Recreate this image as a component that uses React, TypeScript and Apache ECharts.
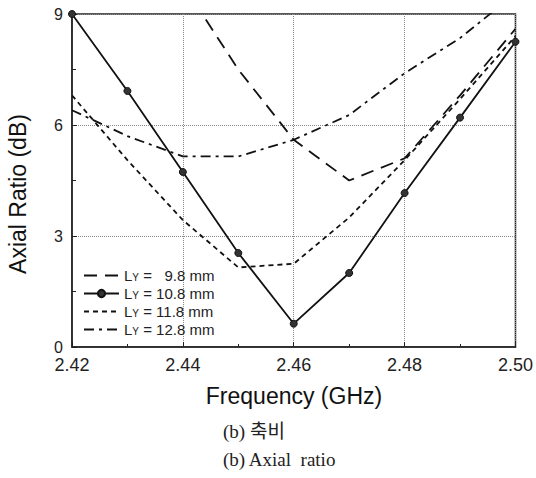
import React, { useEffect, useRef } from "react";
import * as echarts from "echarts";

const freq = [2.42, 2.43, 2.44, 2.45, 2.46, 2.47, 2.48, 2.49, 2.5];
const ar98 = [null, null, 9.8, 7.5, 5.6, 4.5, 5.1, 6.8, 8.6];
const ar108 = [9.0, 6.92, 4.73, 2.54, 0.63, 2.0, 4.16, 6.2, 8.25];
const ar118 = [6.8, 5.05, 3.43, 2.15, 2.25, 3.5, 5.05, 6.7, 8.4];
const ar128 = [6.4, 5.7, 5.15, 5.15, 5.6, 6.27, 7.4, 8.35, 9.55];
const seriesNames = ["9.8", "10.8", "11.8", "12.8"];
const legendValues = ["  9.8 mm", "10.8 mm", "11.8 mm", "12.8 mm"];
const xTicks = ["2.42", "2.44", "2.46", "2.48", "2.50"];

const pairs = (ys: (number | null)[]) =>
  freq.map((f, i) => [f, ys[i]]).filter((p) => p[1] !== null);

export default function App() {
  const ref = useRef<HTMLDivElement>(null);
  useEffect(() => {
    if (!ref.current) return;
    const chart = echarts.init(ref.current, undefined, { renderer: "svg" });
    const ink = "#111";
    const lineBase = { color: ink, width: 1.8 };
    const sans = '"Liberation Sans", Arial, sans-serif';
    chart.setOption({
      animation: false,
      backgroundColor: "#fff",
      grid: {
        left: 72,
        right: 19,
        top: 14,
        bottom: 131,
        show: true,
        borderColor: "#222",
        borderWidth: 1.5,
      },
      legend: {
        left: 83,
        top: 268,
        padding: 0,
        orient: "vertical",
        itemWidth: 35,
        itemHeight: 9,
        itemGap: 3,
        data: [
          { name: "9.8", itemStyle: { opacity: 0 } },
          { name: "10.8" },
          { name: "11.8", itemStyle: { opacity: 0 } },
          { name: "12.8", itemStyle: { opacity: 0 } },
        ],
        formatter: (name: string) => {
          const i = seriesNames.indexOf(name);
          return "{l|L}{s|Y}{l| = " + legendValues[i] + "}";
        },
        textStyle: {
          rich: {
            l: { fontFamily: sans, fontSize: 15, color: "#222" },
            s: { fontFamily: sans, fontSize: 10, color: "#222", padding: [3, 0, 0, 0] },
          },
        },
      },
      xAxis: {
        type: "value",
        min: 2.42,
        max: 2.5,
        interval: 0.02,
        axisLine: { show: true, lineStyle: { color: "#222", width: 1.5 } },
        axisTick: { show: true, inside: true, length: 5, lineStyle: { color: "#222" } },
        minorTick: { show: true, splitNumber: 2, length: 3, lineStyle: { color: "#222" } },
        splitLine: { show: true, lineStyle: { type: "dotted", color: "#888", width: 1 } },
        axisLabel: {
          margin: 9,
          fontFamily: sans,
          fontSize: 18,
          color: "#222",
          formatter: (v: number) => {
            const s = v.toFixed(2);
            return xTicks.includes(s) ? s : "";
          },
        },
      },
      yAxis: {
        type: "value",
        min: 0,
        max: 9,
        interval: 3,
        axisLine: { show: true, lineStyle: { color: "#222", width: 1.5 } },
        axisTick: { show: true, inside: true, length: 5, lineStyle: { color: "#222" } },
        minorTick: { show: true, splitNumber: 2, length: 4, lineStyle: { color: "#222" } },
        splitLine: { show: true, lineStyle: { type: "dotted", color: "#888", width: 1 } },
        axisLabel: { margin: 9, fontFamily: sans, fontSize: 16, color: "#222" },
      },
      series: [
        {
          name: "9.8",
          type: "line",
          data: pairs(ar98),
          symbol: "none",
          lineStyle: { ...lineBase, type: [13, 8] },
          itemStyle: { color: ink },
        },
        {
          name: "10.8",
          type: "line",
          data: pairs(ar108),
          symbol: "circle",
          symbolSize: 7,
          lineStyle: { ...lineBase },
          itemStyle: { color: "#333", borderColor: ink, borderWidth: 1 },
        },
        {
          name: "11.8",
          type: "line",
          data: pairs(ar118),
          symbol: "none",
          lineStyle: { ...lineBase, type: [5, 4] },
          itemStyle: { color: ink },
        },
        {
          name: "12.8",
          type: "line",
          data: pairs(ar128),
          symbol: "none",
          lineStyle: { ...lineBase, type: [10, 5, 3, 5] },
          itemStyle: { color: ink },
        },
      ],
      graphic: [
        {
          type: "text",
          x: 18,
          y: 194,
          rotation: Math.PI / 2,
          style: {
            text: "Axial Ratio (dB)",
            font: "23px " + sans,
            fill: "#111",
            align: "center",
            verticalAlign: "middle",
          },
        },
        {
          type: "text",
          x: 294,
          y: 396,
          style: {
            text: "Frequency (GHz)",
            font: "23px " + sans,
            fill: "#111",
            align: "center",
            verticalAlign: "middle",
          },
        },
        {
          type: "text",
          x: 223,
          y: 431,
          style: {
            text: "(b) 축비",
            font: '19px "Liberation Serif", "Noto Sans CJK KR", serif',
            fill: "#222",
            verticalAlign: "middle",
          },
        },
        {
          type: "text",
          x: 223,
          y: 459,
          style: {
            text: "(b) Axial  ratio",
            font: '19px "Liberation Serif", serif',
            fill: "#222",
            verticalAlign: "middle",
          },
        },
      ],
    });
    return () => chart.dispose();
  }, []);
  return (
    <div
      ref={ref}
      style={{ position: "absolute", left: 0, top: 0, width: 536, height: 478 }}
    />
  );
}
